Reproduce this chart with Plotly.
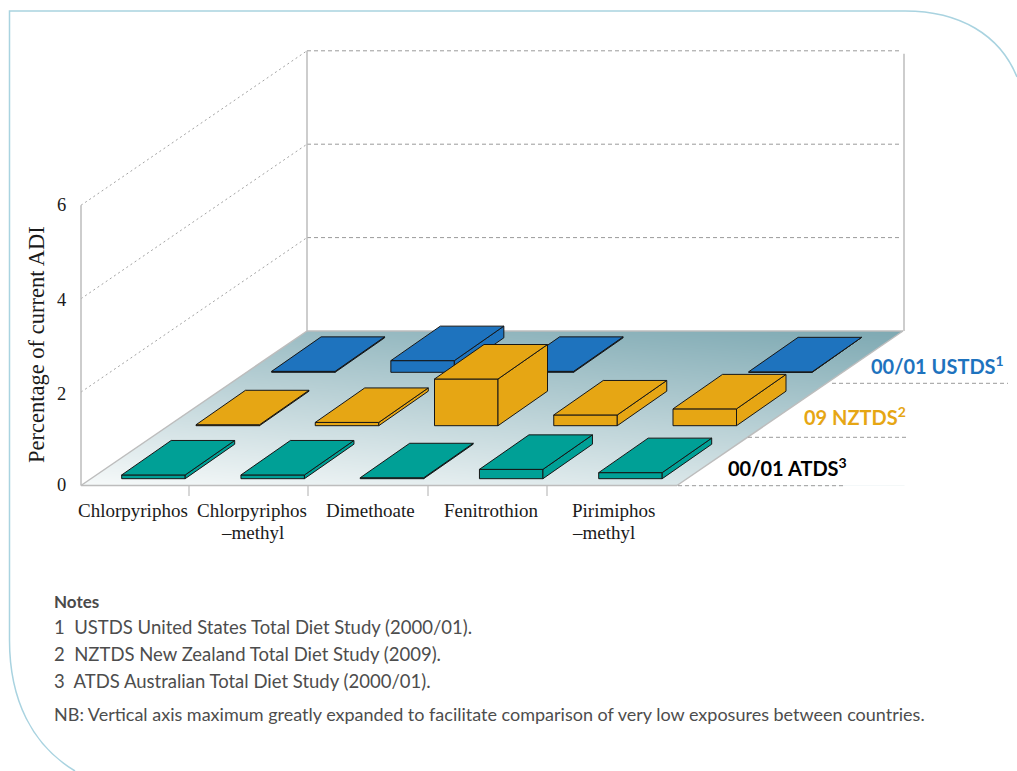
import numpy as np
import plotly.graph_objects as go

# Exposure as percentage of current ADI, by pesticide and dietary study
compounds = ["Chlorpyriphos", "Chlorpyriphos<br>–methyl", "Dimethoate", "Fenitrothion", "Pirimiphos<br>–methyl"]
atds = [0.08, 0.08, 0.02, 0.20, 0.13]
nztds = [0.02, 0.07, 1.00, 0.23, 0.36]
ustds = [0.02, 0.25, 0.02, None, 0.01]
axis_ticks = [0, 2, 4, 6]

study_labels = ["00/01 USTDS<sup>1</sup>", "09 NZTDS<sup>2</sup>", "00/01 ATDS<sup>3</sup>"]
note_lines = [
    "1\u00a0\u00a0USTDS United States Total Diet Study (2000/01).",
    "2\u00a0\u00a0NZTDS New Zealand Total Diet Study (2009).",
    "3\u00a0\u00a0ATDS Australian Total Diet Study (2000/01).",
]
nb_line = "NB: Vertical axis maximum greatly expanded to facilitate comparison of very low exposures between countries."

BLUE, ORANGE, TEAL = "#1E73BE", "#E6A614", "#00A096"
GREY = "#BDBDBD"
DASH = "#9A9A9A"
EDGE = "#161616"
SERIF = "Liberation Serif"
NARROW = "Lato, sans-serif"

# Oblique projection of the chart box onto the page
FRONT_X, FRONT_Y = 81.0, 485.5
BACK_X, BACK_Y = 307.0, 331.0
FLOOR_W = 596.0
UNIT = 46.7              # pixels per percentage point
CAT_STEP = 119.25
BAR_W = 63.5
BAR_DX, BAR_DY = 49.5, 34.5


def z_y(base_y, value):
    return base_y - value * UNIT


fig = go.Figure()

# Shaded floor: a linear ramp over its bounding box, trimmed to a parallelogram below
shade_x = np.arange(FRONT_X, BACK_X + FLOOR_W + 3, 3.0)
shade_y = np.arange(BACK_Y, FRONT_Y + 3, 3.0)
shade_z = (0.30 * (shade_x - FRONT_X) / (BACK_X + FLOOR_W - FRONT_X)
           + 0.65 * (FRONT_Y - shade_y[:, None]) / (FRONT_Y - BACK_Y))
fig.add_trace(go.Heatmap(
    x=shade_x, y=shade_y, z=shade_z, zmin=0, zmax=1, zsmooth="best",
    colorscale=[[0, "#F7FAFA"], [1, "#78A5AF"]],
    showscale=False, hoverinfo="skip",
))


def polygon(xs, ys, fill, line=None, width=1.0):
    fig.add_trace(go.Scatter(
        x=list(xs) + [xs[0]], y=list(ys) + [ys[0]], mode="lines", fill="toself",
        fillcolor=fill, line=dict(color=line or fill, width=width if line else 0),
        hoverinfo="skip", showlegend=False,
    ))


def segment(x0, y0, x1, y1, color=GREY, width=1.5, dash=None):
    fig.add_trace(go.Scatter(
        x=[x0, x1], y=[y0, y1], mode="lines",
        line=dict(color=color, width=width, dash=dash),
        hoverinfo="skip", showlegend=False,
    ))


# White masks around the floor
pad = 6
left, right = FRONT_X - pad, BACK_X + FLOOR_W + pad
polygon([left, BACK_X, FRONT_X, left], [BACK_Y, BACK_Y, FRONT_Y, FRONT_Y], "#FFFFFF")
polygon([FRONT_X + FLOOR_W, BACK_X + FLOOR_W, right, right],
        [FRONT_Y, BACK_Y, BACK_Y, FRONT_Y], "#FFFFFF")
polygon([left, right, right, left], [BACK_Y - pad, BACK_Y - pad, BACK_Y, BACK_Y], "#FFFFFF")
polygon([left, right, right, left], [FRONT_Y, FRONT_Y, FRONT_Y + pad, FRONT_Y + pad], "#FFFFFF")

# Gridlines on the side and back walls
for tick in axis_ticks[1:]:
    segment(FRONT_X, z_y(FRONT_Y, tick), BACK_X, z_y(BACK_Y, tick), "#8A8A8A", 0.8, "2px,3px")
    segment(BACK_X, z_y(BACK_Y, tick), BACK_X + FLOOR_W - 2, z_y(BACK_Y, tick), DASH, 1, "4px,3px")

# Box edges
top = axis_ticks[-1]
segment(FRONT_X, FRONT_Y, FRONT_X, z_y(FRONT_Y, top))
segment(BACK_X, BACK_Y, BACK_X, z_y(BACK_Y, top))
segment(BACK_X + FLOOR_W + 1, BACK_Y, BACK_X + FLOOR_W + 1, z_y(BACK_Y, top) + 3)
segment(FRONT_X, FRONT_Y, FRONT_X + FLOOR_W, FRONT_Y)
segment(FRONT_X, FRONT_Y, BACK_X, BACK_Y)
segment(BACK_X, BACK_Y, BACK_X + FLOOR_W, BACK_Y)
segment(FRONT_X + FLOOR_W, FRONT_Y, BACK_X + FLOOR_W, BACK_Y)

# Category ticks below the front edge
for tick_x in [189, 308, 428, 547]:
    segment(tick_x, FRONT_Y, tick_x, 496, GREY, 1.2)

# Leader lines running out from the floor's right edge
segment(678, 485.7, 843, 485.7, DASH, 1, "4px,3px")
segment(748, 437.3, 906, 437.3, DASH, 1, "4px,3px")
segment(832, 383.3, 1008, 383.3, DASH, 1, "4px,3px")


def bars(values, color, start_x, base_y):
    for i, value in enumerate(values):
        if value is None:
            continue
        x0 = start_x + i * CAT_STEP
        x1 = x0 + BAR_W
        y_top = z_y(base_y, value)
        polygon([x0, x1, x1, x0], [base_y, base_y, y_top, y_top], color, EDGE)
        polygon([x1, x1 + BAR_DX, x1 + BAR_DX, x1],
                [base_y, base_y - BAR_DY, y_top - BAR_DY, y_top], color, EDGE)
        polygon([x0, x1, x1 + BAR_DX, x0 + BAR_DX],
                [y_top, y_top, y_top - BAR_DY, y_top - BAR_DY], color, EDGE)


# Rows are painted back to front so nearer bars hide farther ones
bars(ustds, BLUE, 271.6, 372.3)
bars(nztds, ORANGE, 196.0, 425.7)
bars(atds, TEAL, 121.7, 478.7)


def label(x, y, text, size, color="#1a1a1a", family=SERIF, xanchor="left", align="left", **kw):
    fig.add_annotation(x=x, y=y, text=text, showarrow=False, xanchor=xanchor, yanchor="middle",
                       align=align, font=dict(family=family, size=size, color=color), **kw)


# Old-style figures sit a little lower on the mid ticks
for tick in axis_ticks:
    label(68, z_y(FRONT_Y, tick) + (1.5 if tick in (2, 4) else -0.5), str(tick), 18.5, xanchor="right")
label(36, 345, "Percentage of current ADI", 22.5, xanchor="center", align="center", textangle=-90)

# Category names, one annotation per line so the leading stays tight
for name, cx in zip(compounds[:4], [133, 252, 370, 491]):
    for k, part in enumerate(name.split("<br>")):
        label(cx, 510 + 22 * k, part, 19, xanchor="center", align="center")
for k, part in enumerate(compounds[4].split("<br>")):
    label(570, 510 + 22 * k, part, 19)

label(1006, 365, "<b>" + study_labels[0] + "</b>", 20, BLUE, NARROW, xanchor="right", align="right")
label(908, 416, "<b>" + study_labels[1] + "</b>", 20, ORANGE, NARROW, xanchor="right", align="right")
label(849, 467, "<b>" + study_labels[2] + "</b>", 20, "#000000", NARROW, xanchor="right", align="right")

label(52, 601, "<b>Notes</b>", 17, "#4a4a4a", NARROW)
for line, y in zip(note_lines, [627, 654, 681]):
    label(52, y, line, 18.5, "#4d4d4d", NARROW)
label(52, 714, nb_line, 18, "#4d4d4d", NARROW)

# Rounded panel outline
fig.add_shape(type="path", xref="x", yref="y", layer="below",
              path="M 75 771 C 32 745 9.5 700 9.5 640 L 9.5 11 L 905 11 C 960 11 1000 35 1017 77",
              line=dict(color="#A9D3E0", width=1.5))

fig.update_layout(
    width=1017, height=771, autosize=False, margin=dict(l=0, r=0, t=0, b=0),
    paper_bgcolor="white", plot_bgcolor="white", showlegend=False,
    xaxis=dict(range=[0, 1017], visible=False, fixedrange=True),
    yaxis=dict(range=[771, 0], visible=False, fixedrange=True),
)
fig.write_html("out.html", config={"displayModeBar": False})
